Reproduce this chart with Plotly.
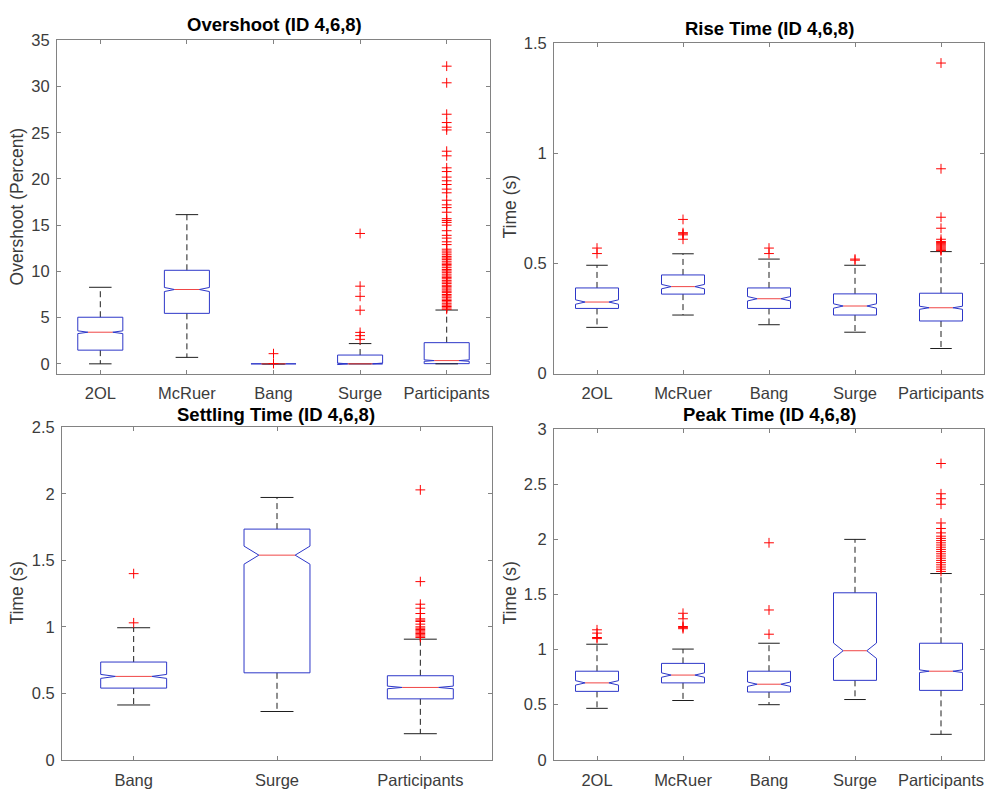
import plotly.graph_objects as go

# ------------------------- data -------------------------
cats5 = ["2OL", "McRuer", "Bang", "Surge", "Participants"]
cats3 = ["Bang", "Surge", "Participants"]

# Overshoot (Percent)
os_q1 = [1.48, 5.46, 0.0, 0.0, 0.02]
os_med = [3.42, 8.04, 0.0, 0.0, 0.35]
os_q3 = [5.04, 10.12, 0.0, 0.95, 2.29]
os_lw = [0.0, 0.70, 0.0, 0.0, 0.0]
os_uw = [8.28, 16.14, 0.0, 2.19, 5.82]
os_notch = [0.15, 0.22, 0.0, 0.08, 0.08]
os_out = [
    [],
    [],
    [1.1, 0.03],
    [14.1, 8.4, 7.3, 5.8, 3.4, 3.05, 2.65],
    [32.2, 30.4, 27.0, 26.1, 25.6, 25.3, 23.0, 22.5, 21.2, 20.8, 20.2, 19.8,
     19.4, 18.9, 18.5, 17.7, 17.2, 16.9, 16.4, 15.7, 15.5, 15.3, 15.0, 14.4,
     13.9, 13.6, 13.2, 12.9, 12.4, 12.2, 12.0, 11.8, 11.6, 11.45, 11.3, 11.1,
     10.9, 10.75, 10.6, 10.4, 10.2, 10.05, 9.9, 9.7, 9.5, 9.35, 9.2, 9.0,
     8.85, 8.7, 8.5, 8.35, 8.2, 8.0, 7.85, 7.7, 7.5, 7.35, 7.2, 7.0, 6.85,
     6.7, 6.5, 6.35, 6.2, 6.05, 5.9],
]

# Rise Time (s)
rt_q1 = [0.296, 0.361, 0.296, 0.266, 0.239]
rt_med = [0.325, 0.395, 0.340, 0.307, 0.299]
rt_q3 = [0.389, 0.448, 0.389, 0.362, 0.365]
rt_lw = [0.210, 0.266, 0.222, 0.188, 0.114]
rt_uw = [0.492, 0.544, 0.520, 0.492, 0.554]
rt_notch = [0.01, 0.01, 0.01, 0.01, 0.007]
rt_out = [
    [0.57, 0.545],
    [0.70, 0.64, 0.635, 0.63, 0.61],
    [0.57, 0.545],
    [0.52, 0.515],
    [1.41, 0.93, 0.71, 0.66, 0.61, 0.60, 0.595, 0.59, 0.585, 0.58, 0.575,
     0.57, 0.565, 0.56, 0.558],
]

# Settling Time (s)
st_q1 = [0.539, 0.654, 0.458]
st_med = [0.627, 1.539, 0.544]
st_q3 = [0.735, 1.735, 0.632]
st_lw = [0.412, 0.363, 0.196]
st_uw = [0.993, 1.973, 0.907]
st_notch = [0.015, 0.068, 0.01]
st_out = [
    [1.40, 1.03],
    [],
    [2.03, 1.34, 1.17, 1.14, 1.10, 1.06, 1.05, 1.04, 1.02, 1.0, 0.99, 0.98,
     0.97, 0.96, 0.95, 0.94, 0.93, 0.92],
]

# Peak Time (s)
pt_q1 = [0.621, 0.698, 0.615, 0.721, 0.630]
pt_med = [0.698, 0.769, 0.686, 0.990, 0.804]
pt_q3 = [0.804, 0.875, 0.804, 1.516, 1.058]
pt_lw = [0.467, 0.538, 0.500, 0.547, 0.231]
pt_uw = [1.049, 1.005, 1.058, 2.001, 1.691]
pt_notch = [0.02, 0.02, 0.02, 0.07, 0.012]
pt_out = [
    [1.18, 1.15, 1.11, 1.10],
    [1.33, 1.28, 1.21, 1.20, 1.19],
    [1.97, 1.36, 1.14],
    [],
    [2.69, 2.415, 2.37, 2.32, 2.15, 2.10, 2.06, 2.03, 2.01, 1.99, 1.97, 1.95,
     1.93, 1.91, 1.89, 1.87, 1.85, 1.83, 1.81, 1.79, 1.77, 1.75, 1.73, 1.71],
]

titles = ["Overshoot (ID 4,6,8)", "Rise Time (ID 4,6,8)",
          "Settling Time (ID 4,6,8)", "Peak Time (ID 4,6,8)"]
ytitles = ["Overshoot (Percent)", "Time (s)", "Time (s)", "Time (s)"]

# ------------------------- styling -------------------------
W, H = 990, 802
BLUE = "rgb(45,55,200)"
RED = "rgb(255,0,0)"
MEDRED = "rgb(240,70,70)"
BLACK = "rgb(30,30,30)"
FRAME = "rgb(130,130,130)"
TICKC = "rgb(60,60,60)"
FONT = "Liberation Sans, Arial, sans-serif"

fig = go.Figure()


def add_boxes(ax, cats, q1, med, q3, lw, uw, notch, outs, hw):
    xa = "x" if ax == 1 else "x%d" % ax
    ya = "y" if ax == 1 else "y%d" % ax
    bx, by, mx, my, wx, wy, cx, cy, ox, oy = [], [], [], [], [], [], [], [], [], []
    ind = hw * 0.45
    for i, c in enumerate(cats):
        x = i + 1
        lo, hi = med[i] - notch[i], med[i] + notch[i]
        bx += [x - hw, x + hw, x + hw, x + hw - ind, x + hw, x + hw,
               x - hw, x - hw, x - hw + ind, x - hw, x - hw, None]
        by += [q1[i], q1[i], lo, med[i], hi, q3[i],
               q3[i], hi, med[i], lo, q1[i], None]
        mx += [x - hw + ind, x + hw - ind, None]
        my += [med[i], med[i], None]
        wx += [x, x, None, x, x, None]
        wy += [q3[i], uw[i], None, q1[i], lw[i], None]
        cx += [x - hw / 2, x + hw / 2, None, x - hw / 2, x + hw / 2, None]
        cy += [uw[i], uw[i], None, lw[i], lw[i], None]
        for v in outs[i]:
            ox.append(x)
            oy.append(v)
    common = dict(xaxis=xa, yaxis=ya, showlegend=False, hoverinfo="skip")
    fig.add_trace(go.Scatter(x=wx, y=wy, mode="lines",
                             line=dict(color=BLACK, width=1, dash="6px,4px"), **common))
    fig.add_trace(go.Scatter(x=bx, y=by, mode="lines",
                             line=dict(color=BLUE, width=1), **common))
    fig.add_trace(go.Scatter(x=cx, y=cy, mode="lines",
                             line=dict(color=BLACK, width=1), **common))
    fig.add_trace(go.Scatter(x=mx, y=my, mode="lines",
                             line=dict(color=MEDRED, width=1), **common))
    fig.add_trace(go.Scatter(x=ox, y=oy, mode="markers",
                             marker=dict(symbol="cross-thin", size=7,
                                         line=dict(color=RED, width=1)), **common))


add_boxes(1, cats5, os_q1, os_med, os_q3, os_lw, os_uw, os_notch, os_out, 0.26)
add_boxes(2, cats5, rt_q1, rt_med, rt_q3, rt_lw, rt_uw, rt_notch, rt_out, 0.25)
add_boxes(3, cats3, st_q1, st_med, st_q3, st_lw, st_uw, st_notch, st_out, 0.23)
add_boxes(4, cats5, pt_q1, pt_med, pt_q3, pt_lw, pt_uw, pt_notch, pt_out, 0.25)

# axes geometry (pixels)
geo = {
    1: (57, 490, 32, 373),
    2: (554, 984, 35, 373),
    3: (62, 492, 428, 768),
    4: (554, 984, 430, 768),
}
yranges = {1: [-1.06, 35], 2: [0, 1.5], 3: [0, 2.5], 4: [0, 3]}
ydtick = {1: 5, 2: 0.5, 3: 0.5, 4: 0.5}
catsets = {1: cats5, 2: cats5, 3: cats3, 4: cats5}

lay = {}
for k in range(1, 5):
    l, r, t, b = geo[k]
    cats = catsets[k]
    xname = "xaxis" if k == 1 else "xaxis%d" % k
    yname = "yaxis" if k == 1 else "yaxis%d" % k
    lay[xname] = dict(
        domain=[l / W, r / W], anchor="y" if k == 1 else "y%d" % k,
        range=[0.5, len(cats) + 0.5], tickmode="array",
        tickvals=list(range(1, len(cats) + 1)), ticktext=cats,
        showline=True, linecolor=FRAME, linewidth=1, mirror="ticks",
        ticks="inside", ticklen=4, tickcolor=FRAME, showgrid=False,
        zeroline=False, ticklabelstandoff=5,
        tickfont=dict(family=FONT, size=16.5, color=TICKC),
    )
    lay[yname] = dict(
        domain=[1 - b / H, 1 - t / H], anchor="x" if k == 1 else "x%d" % k,
        range=yranges[k], dtick=ydtick[k], tick0=0,
        showline=True, linecolor=FRAME, linewidth=1, mirror="ticks",
        ticks="inside", ticklen=4, tickcolor=FRAME, showgrid=False,
        zeroline=False, ticklabelstandoff=3,
        tickfont=dict(family=FONT, size=16.5, color=TICKC),
    )

annots = []
tpos = [(274, 16), (769, 20), (276, 415), (769, 415)]
for k in range(4):
    annots.append(dict(text="<b>%s</b>" % titles[k], x=tpos[k][0] / W,
                       y=1 - tpos[k][1] / H, xref="paper", yref="paper",
                       xanchor="center", yanchor="middle", showarrow=False,
                       font=dict(family=FONT, size=18.5, color="black")))
ypos = [(17, 202), (510, 202), (17, 597), (510, 597)]
for k in range(4):
    annots.append(dict(text=ytitles[k], x=ypos[k][0] / W,
                       y=1 - ypos[k][1] / H, xref="paper", yref="paper",
                       xanchor="center", yanchor="middle", showarrow=False,
                       textangle=-90,
                       font=dict(family=FONT, size=17.5, color=TICKC)))

fig.update_layout(
    width=W, height=H, margin=dict(l=0, r=0, t=0, b=0),
    paper_bgcolor="white", plot_bgcolor="white",
    annotations=annots, **lay,
)

fig.write_html("out.html")
